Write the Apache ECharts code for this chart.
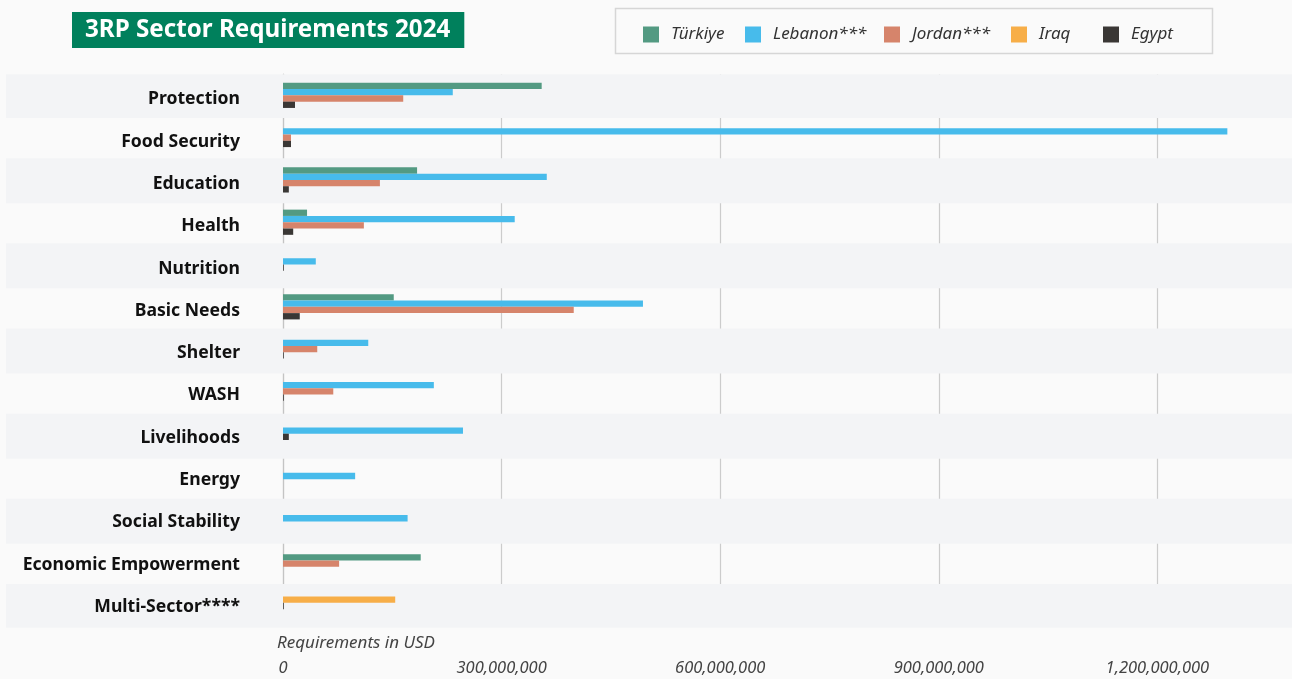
<!DOCTYPE html>
<html>
<head>
<meta charset="utf-8">
<script src="https://cdn.jsdelivr.net/npm/echarts@6/dist/echarts.min.js"></script>
<style>
html,body{margin:0;padding:0;background:#fafafa;}
#chart{width:1292px;height:679px;}
</style>
</head>
<body>
<div id="chart"></div>
<script>
const categories = ['Protection','Food Security','Education','Health','Nutrition','Basic Needs','Shelter','WASH','Livelihoods','Energy','Social Stability','Economic Empowerment','Multi-Sector****'];
const seriesNames = ['Türkiye','Lebanon***','Jordan***','Iraq','Egypt'];
const turkiye = [355000000, null, 184000000, 33000000, null, 152000000, null, null, null, null, null, 189000000, null];
const lebanon = [233000000, 1296000000, 362000000, 318000000, 45000000, 494000000, 117000000, 207000000, 247000000, 99000000, 171000000, null, null];
const jordan  = [165000000, 11000000, 133000000, 111000000, null, 399000000, 47000000, 69000000, null, null, null, 77000000, null];
const iraq    = [null, null, null, null, null, null, null, null, null, null, null, null, 154000000];
const egypt   = [16500000, 11000000, 8000000, 14000000, 1000000, 23000000, 1000000, 1000000, 8000000, null, null, null, 1000000];
const xTicks = [0, 300000000, 600000000, 900000000, 1200000000];
const colors = ['#539a82','#47bbeb','#d6846b','#f7ae48','#3a3735'];

const allSeries = [turkiye, lebanon, jordan, iraq, egypt];
const BAR_H = 6.3;

function makeRender(sIdx) {
  return function (params, api) {
    const v = api.value(0);
    const i = api.value(1);
    const present = [];
    allSeries.forEach((arr, k) => { if (arr[i] != null) present.push(k); });
    const n = present.length;
    const j = present.indexOf(sIdx);
    const p0 = api.coord([0, i]);
    const p1 = api.coord([v, i]);
    const y = p0[1] - n * BAR_H / 2 + j * BAR_H;
    return {
      type: 'rect',
      shape: { x: p0[0], y: y, width: Math.max(p1[0] - p0[0], 0.8), height: BAR_H },
      style: { fill: colors[sIdx] }
    };
  };
}

const series = allSeries.map((arr, sIdx) => ({
  type: 'custom',
  name: seriesNames[sIdx],
  xAxisIndex: 1,
  yAxisIndex: 1,
  itemStyle: { color: colors[sIdx] },
  renderItem: makeRender(sIdx),
  encode: { x: 0, y: 1 },
  clip: false,
  z: 3,
  data: arr.map((v, i) => v == null ? null : [v, i]).filter(d => d != null)
}));

// alternating background bands (decoration, one per odd/even category)
series.unshift({
  type: 'bar',
  name: 'bands',
  xAxisIndex: 0,
  yAxisIndex: 0,
  silent: true,
  barWidth: 45,
  itemStyle: { color: '#f3f4f6' },
  z: 0,
  data: categories.map((c, i) => i % 2 === 0 ? 1 : '-')
});

const legendLefts = [638, 740, 879, 1006, 1098];
const legends = seriesNames.map((nm, k) => ({
  data: [nm],
  left: legendLefts[k],
  top: 21,
  itemWidth: 30,
  itemHeight: 16,
  icon: 'path://M0,0H1V1H0Z',
  selectedMode: false,
  textStyle: { fontFamily: 'Noto Sans', fontStyle: 'italic', fontSize: 17, color: '#333' }
}));

const chart = echarts.init(document.getElementById('chart'));
chart.setOption({
  backgroundColor: '#fafafa',
  animation: false,
  title: {
    text: '3RP Sector Requirements 2024',
    left: 72, top: 12,
    padding: [4, 14, 4, 13],
    backgroundColor: '#00805c',
    textStyle: { color: '#fff', fontFamily: 'Noto Sans', fontWeight: 'bold', fontSize: 24.2, lineHeight: 28 }
  },
  legend: legends,
  graphic: [
    { type: 'rect', left: 613, top: 6, shape: { width: 597, height: 45 }, style: { fill: 'none', stroke: '#d6d6d6', lineWidth: 1.5 }, z: -1 },
    { type: 'text', left: 277, top: 635, style: { text: 'Requirements in USD', fontFamily: 'Noto Sans', fontStyle: 'italic', fontSize: 17, fill: '#444' } }
  ],
  grid: [
    { left: 6, right: 0, top: 74.2, bottom: 51.2, containLabel: false, outerBoundsMode: 'none' },
    { left: 283, right: -84, top: 74.2, bottom: 55, containLabel: false, outerBoundsMode: 'none' }
  ],
  xAxis: [
    { type: 'value', gridIndex: 0, show: false, min: 0, max: 1 },
    {
      type: 'value', gridIndex: 1, min: 0, max: 1500000000, interval: 300000000,
      axisLine: { show: false }, axisTick: { show: false },
      splitLine: { show: true, lineStyle: { color: '#cccccc', width: 1.2 } },
      axisLabel: {
        margin: 36, fontFamily: 'Noto Sans', fontStyle: 'italic', fontSize: 16.5, color: '#444',
        formatter: v => xTicks.indexOf(v) >= 0 ? v.toLocaleString('en-US') : ''
      }
    }
  ],
  yAxis: [
    {
      type: 'category', gridIndex: 0, data: categories, inverse: true,
      axisLine: { show: false }, axisTick: { show: false }, axisLabel: { show: false }
    },
    {
      type: 'category', gridIndex: 1, data: categories, inverse: true,
      axisLine: { show: true, lineStyle: { color: '#c4c4c4', width: 1.2 } },
      axisTick: { show: false },
      axisLabel: { margin: 43, verticalAlign: 'top', lineHeight: 8, fontFamily: 'Noto Sans', fontWeight: 'bold', fontSize: 17.6, color: '#111' }
    }
  ],
  series: series
});
</script>
</body>
</html>
